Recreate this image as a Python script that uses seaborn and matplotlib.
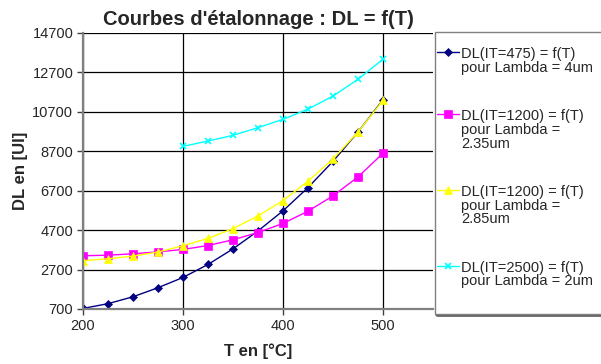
import numpy as np
import pandas as pd
import seaborn as sns
import matplotlib.pyplot as plt
from matplotlib.patches import Rectangle

# données
T = [200, 225, 250, 275, 300, 325, 350, 375, 400, 425, 450, 475, 500]
dl_475_4um = [730, 970, 1320, 1780, 2300, 2960, 3750, 4660, 5680, 6860, 8190, 9680, 11320]
dl_1200_235um = [3400, 3430, 3500, 3600, 3720, 3920, 4210, 4580, 5040, 5660, 6440, 7400, 8600]
dl_1200_285um = [3150, 3250, 3380, 3590, 3910, 4280, 4780, 5420, 6200, 7180, 8310, 9680, 11280]
dl_2500_2um = [np.nan, np.nan, np.nan, np.nan, 8950, 9220, 9510, 9900, 10320, 10840, 11500, 12350, 13370]

labels = ["DL(IT=475) = f(T)\npour Lambda = 4um",
          "DL(IT=1200) = f(T)\npour Lambda =\n2.35um",
          "DL(IT=1200) = f(T)\npour Lambda =\n2.85um",
          "DL(IT=2500) = f(T)\npour Lambda = 2um"]
series = [dl_475_4um, dl_1200_235um, dl_1200_285um, dl_2500_2um]
colors = ["#000080", "#FF00FF", "#FFFF00", "#00FFFF"]
markers = ["D", "s", "^", "x"]
msizes = [4, 6, 6, 5]

yticks = list(range(700, 14701, 2000))
xticks = [200, 300, 400, 500]

sns.set_style("white")
plt.rcParams['font.family'] = ['Liberation Sans', 'DejaVu Sans']

fig = plt.figure(figsize=(6.01, 3.64), dpi=100)
ax = fig.add_axes([83 / 601, 1 - 309 / 364, 350 / 601, 276 / 364])

for lab, vals, c, m, ms in zip(labels, series, colors, markers, msizes):
    df = pd.DataFrame({"T": T, "DL": vals}).dropna()
    sns.lineplot(data=df, x="T", y="DL", ax=ax, color=c, marker=m,
                 markersize=ms, markeredgecolor=c, markeredgewidth=1.2 if m == "x" else 0.5,
                 linewidth=1, label=lab)

ax.set_xlim(200, 550)
ax.set_ylim(700, 14700)
ax.set_xticks(xticks)
ax.set_yticks(yticks)
ax.grid(True, color="black", linewidth=0.9)
ax.set_axisbelow(True)
for s in ["top", "right"]:
    ax.spines[s].set_visible(False)
for s in ["left", "bottom"]:
    ax.spines[s].set_color("#808080")
    ax.spines[s].set_linewidth(1.6)
ax.tick_params(axis="both", labelsize=10.5, direction="out", length=4, width=1,
               color="#404040", bottom=True, left=True, pad=3)

ax.set_title("Courbes d'étalonnage : DL = f(T)", fontsize=14.5, fontweight="bold", pad=6)
ax.set_xlabel("T en [°C]", fontsize=12, fontweight="bold", labelpad=8)
ax.set_ylabel("DL en [UI]", fontsize=12, fontweight="bold", labelpad=3)

# cadre de la légende (déborde à droite comme dans Excel)
fig.patches.append(Rectangle((436 / 601, 1 - 315 / 364), 0.4, 282 / 364,
                             transform=fig.transFigure, fill=False,
                             edgecolor="black", linewidth=2, alpha=0.6))
fig.patches.append(Rectangle((435 / 601, 1 - 314 / 364), 0.4, 282 / 364,
                             transform=fig.transFigure, facecolor="white",
                             edgecolor="#808080", linewidth=1))

handles, labs = ax.get_legend_handles_labels()
ax.get_legend().remove()
leg = fig.legend(handles, labs, loc="upper left",
                 bbox_to_anchor=(437 / 601, 1 - 47 / 364), frameon=False,
                 fontsize=10.5, handlelength=1.5, handletextpad=0.15,
                 labelspacing=2.35, borderpad=0, borderaxespad=0)
for t in leg.get_texts():
    t.set_linespacing(0.98)
# symbole aligné sur la première ligne du texte
for col in leg._legend_handle_box.get_children():
    for item in col.get_children():
        item.align = "top"

fig.savefig("out.png", dpi=100)
